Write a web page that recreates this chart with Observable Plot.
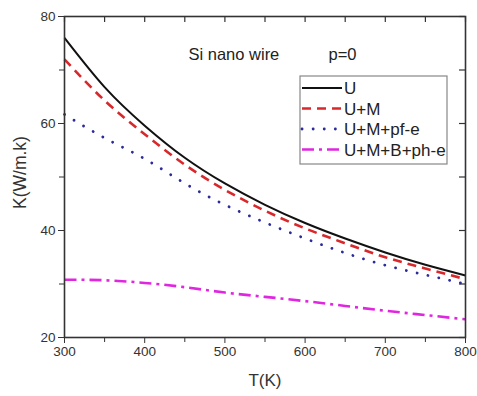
<!DOCTYPE html>
<html><head><meta charset="utf-8">
<script src="https://cdn.jsdelivr.net/npm/d3@7"></script>
<script src="https://cdn.jsdelivr.net/npm/@observablehq/plot@0.6"></script>
<style>
body{margin:0;background:#fff;}
#wrap{position:relative;width:477px;height:396px;}
#wrap svg{position:absolute;left:0;top:0;}
</style></head><body><div id="wrap"></div>
<script>
const T = [300,350,400,450,500,550,600,650,700,750,800];
const U = [76.0,66.8,59.6,53.6,48.8,44.8,41.4,38.5,35.9,33.6,31.6];
const UM = [72.0,64.3,58.0,52.3,47.6,43.7,40.4,37.6,35.0,32.9,30.9];
const UMpfe = [61.7,57.3,53.4,48.8,44.8,41.5,38.5,35.8,33.5,31.7,30.0];
const UMBphe = [30.8,30.7,30.2,29.4,28.4,27.6,26.8,25.9,25.0,24.2,23.4];
const seriesNames = ["U","U+M","U+M+pf-e","U+M+B+ph-e"];
const xTicks = [300,400,500,600,700,800];
const xMinor = [350,450,550,650,750];
const yTicks = [20,40,60,80];
const yMinor = [30,50,70];

const styles = [
  {stroke:"#111", strokeWidth:2, dash:null, cap:"butt"},
  {stroke:"#d9282b", strokeWidth:2.6, dash:"9,6", cap:"butt"},
  {stroke:"#2b2b9c", strokeWidth:2.8, dash:"0.1,11", cap:"round"},
  {stroke:"#e027e0", strokeWidth:2.6, dash:"12,5,3,5", cap:"butt"}
];
const values = [U, UM, UMpfe, UMBphe];
const font = "'Liberation Sans', Arial, sans-serif";
const W = 477, H = 396, mL = 64, mR = 12, mT = 16, mB = 59;
const fw = W - mL - mR, fh = H - mT - mB;

const lineMarks = values.map((v,i) => Plot.line(T.map((t,j)=>({T:t,K:v[j]})), {
  x:"T", y:"K", curve:"natural", stroke:styles[i].stroke, strokeWidth:styles[i].strokeWidth,
  strokeDasharray:styles[i].dash, strokeLinecap:styles[i].cap
}));

const chart = Plot.plot({
  width:W, height:H,
  marginLeft:mL, marginRight:mR, marginTop:mT, marginBottom:mB,
  x:{domain:[300,800]}, y:{domain:[20,80]},
  style:{fontFamily:font, fontSize:"13px", color:"#333", background:"#fff"},
  marks:[
    Plot.axisX({ticks:xTicks, tickSize:6, tickPadding:3, fontSize:13.5, label:null, stroke:"#333"}),
    Plot.axisX({ticks:xMinor, tickSize:5, tickFormat:()=>"", label:null, stroke:"#333"}),
    Plot.axisY({ticks:yTicks, tickSize:6, tickPadding:3, fontSize:13.5, label:null, stroke:"#333"}),
    Plot.axisY({ticks:yMinor, tickSize:5, tickFormat:()=>"", label:null, stroke:"#333"}),
    Plot.tickX(xTicks.concat(xMinor), {x:d=>d, insetBottom:fh-6, stroke:"#333", strokeWidth:1.2}),
    Plot.tickY(yTicks.concat(yMinor), {y:d=>d, insetLeft:fw-6, stroke:"#333", strokeWidth:1.2}),
    ...lineMarks,
    Plot.frame({stroke:"#333", strokeWidth:1.6}),
    Plot.text(["T(K)"], {frameAnchor:"bottom", dy:48, fontSize:17, fill:"#333"}),
    Plot.text(["K(W/m.k)"], {frameAnchor:"left", dx:-44, dy:32, rotate:-90, fontSize:17.5, fill:"#333"}),
    Plot.text(["Si nano wire"], {frameAnchor:"top-left", dx:124, dy:32, textAnchor:"start", fontSize:16.5, fill:"#222"}),
    Plot.text(["p=0"], {frameAnchor:"top-left", dx:264, dy:32, textAnchor:"start", fontSize:16.5, fill:"#222"})
  ]
});
document.getElementById("wrap").appendChild(chart);

// legend overlay
const lg = d3.select("#wrap").append("svg").attr("width",W).attr("height",H)
  .style("pointer-events","none");
lg.append("rect").attr("x",300).attr("y",76).attr("width",147).attr("height",88)
  .attr("fill","#fff").attr("stroke","#888").attr("stroke-width",1.2);
seriesNames.forEach((name,i)=>{
  const y = 88 + i*20.5;
  lg.append("line").attr("x1",302).attr("x2",342).attr("y1",y).attr("y2",y)
    .attr("stroke",styles[i].stroke).attr("stroke-width",styles[i].strokeWidth)
    .attr("stroke-dasharray",styles[i].dash).attr("stroke-linecap",styles[i].cap);
  lg.append("text").attr("x",344).attr("y",y).attr("dy","0.36em")
    .attr("font-family",font).attr("font-size",17).attr("fill","#222").text(name);
});
</script></body></html>
